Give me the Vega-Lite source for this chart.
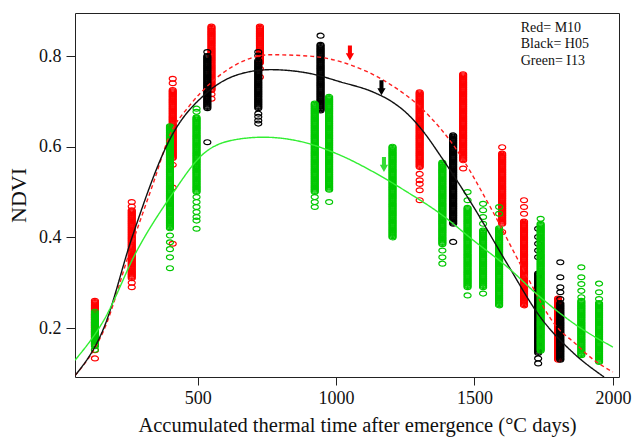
{
  "$schema": "https://vega.github.io/schema/vega-lite/v6.json",
  "width": 544,
  "height": 364,
  "autosize": "none",
  "padding": {"left": 75, "top": 13, "right": 15, "bottom": 60},
  "background": "white",
  "config": {"view": {"stroke": "#222", "strokeWidth": 1}, "font": "Liberation Serif"},
  "datasets": {
    "obs": [
      {"g": "Red", "t": 129, "v": [0.133,0.151,0.165,0.17,0.1725,0.175,0.1775,0.18,0.1825,0.185,0.1875,0.19,0.1925,0.195,0.1975,0.2,0.2025,0.205,0.2075,0.21,0.2125,0.215,0.2175,0.22,0.2225,0.225,0.2275,0.23,0.2325,0.235,0.2375,0.24,0.2425,0.245,0.2475,0.25,0.2525,0.255,0.2575,0.26]},
      {"g": "Red", "t": 262, "v": [0.29,0.3,0.31,0.3125,0.315,0.3175,0.32,0.3225,0.325,0.3275,0.33,0.3325,0.335,0.3375,0.34,0.3425,0.345,0.3475,0.35,0.3525,0.355,0.3575,0.36,0.3625,0.365,0.3675,0.37,0.3725,0.375,0.3775,0.38,0.3825,0.385,0.3875,0.39,0.3925,0.395,0.3975,0.4,0.4025,0.405,0.4075,0.41,0.4125,0.415,0.4175,0.42,0.4225,0.425,0.4275,0.43,0.4325,0.435,0.4375,0.44,0.4425,0.445,0.4475,0.45,0.4525,0.455,0.4575,0.46,0.468,0.478]},
      {"g": "Red", "t": 410, "v": [0.386,0.51,0.56,0.575,0.5775,0.58,0.5825,0.585,0.5875,0.59,0.5925,0.595,0.5975,0.6,0.6025,0.605,0.6075,0.61,0.6125,0.615,0.6175,0.62,0.6225,0.625,0.6275,0.63,0.6325,0.635,0.6375,0.64,0.6425,0.645,0.6475,0.65,0.6525,0.655,0.6575,0.66,0.6625,0.665,0.6675,0.67,0.6725,0.675,0.6775,0.68,0.6825,0.685,0.6875,0.69,0.6925,0.695,0.6975,0.7,0.7025,0.705,0.7075,0.71,0.7125,0.715,0.7175,0.72,0.7225,0.725,0.74,0.75]},
      {"g": "Red", "t": 550, "v": [0.706,0.716,0.725,0.7275,0.73,0.7325,0.735,0.7375,0.74,0.7425,0.745,0.7475,0.75,0.7525,0.755,0.7575,0.76,0.7625,0.765,0.7675,0.77,0.7725,0.775,0.7775,0.78,0.7825,0.785,0.7875,0.79,0.7925,0.795,0.7975,0.8,0.8025,0.805,0.8075,0.81,0.8125,0.815,0.8175,0.82,0.8225,0.825,0.8275,0.83,0.8325,0.835,0.8375,0.84,0.8425,0.845,0.8475,0.85,0.8525,0.855,0.8575,0.86,0.8625,0.865]},
      {"g": "Red", "t": 725, "v": [0.754,0.772,0.785,0.7875,0.79,0.7925,0.795,0.7975,0.8,0.8025,0.805,0.8075,0.81,0.8125,0.815,0.8175,0.82,0.8225,0.825,0.8275,0.83,0.8325,0.835,0.8375,0.84,0.8425,0.845,0.8475,0.85,0.8525,0.855,0.8575,0.86,0.8625,0.865]},
      {"g": "Red", "t": 1302, "v": [0.482,0.504,0.518,0.526,0.54,0.555,0.5575,0.56,0.5625,0.565,0.5675,0.57,0.5725,0.575,0.5775,0.58,0.5825,0.585,0.5875,0.59,0.5925,0.595,0.5975,0.6,0.6025,0.605,0.6075,0.61,0.6125,0.615,0.6175,0.62,0.6225,0.625,0.6275,0.63,0.6325,0.635,0.6375,0.64,0.6425,0.645,0.6475,0.65,0.6525,0.655,0.6575,0.66,0.6625,0.665,0.6675,0.67,0.6725,0.675,0.6775,0.68,0.6825,0.685,0.6875,0.69,0.6925,0.695,0.6975,0.7,0.7025,0.705,0.7075,0.71,0.7125,0.715,0.7175,0.72]},
      {"g": "Red", "t": 1459, "v": [0.552,0.57,0.5725,0.575,0.5775,0.58,0.5825,0.585,0.5875,0.59,0.5925,0.595,0.5975,0.6,0.6025,0.605,0.6075,0.61,0.6125,0.615,0.6175,0.62,0.6225,0.625,0.6275,0.63,0.6325,0.635,0.6375,0.64,0.6425,0.645,0.6475,0.65,0.6525,0.655,0.6575,0.66,0.6625,0.665,0.6675,0.67,0.6725,0.675,0.6775,0.68,0.6825,0.685,0.6875,0.69,0.6925,0.695,0.6975,0.7,0.7025,0.705,0.7075,0.71,0.7125,0.715,0.7175,0.72,0.7225,0.725,0.7275,0.73,0.7325,0.735,0.7375,0.74,0.7425,0.745,0.7475,0.75,0.7525,0.755,0.7575,0.76]},
      {"g": "Red", "t": 1600, "v": [0.412,0.43,0.4325,0.435,0.4375,0.44,0.4425,0.445,0.4475,0.45,0.4525,0.455,0.4575,0.46,0.4625,0.465,0.4675,0.47,0.4725,0.475,0.4775,0.48,0.4825,0.485,0.4875,0.49,0.4925,0.495,0.4975,0.5,0.5025,0.505,0.5075,0.51,0.5125,0.515,0.5175,0.52,0.5225,0.525,0.5275,0.53,0.5325,0.535,0.5375,0.54,0.5425,0.545,0.5475,0.55,0.5525,0.555,0.5575,0.56,0.5625,0.565,0.5675,0.57,0.5725,0.575,0.5775,0.58,0.5825,0.585,0.599]},
      {"g": "Red", "t": 1679, "v": [0.25,0.2525,0.255,0.2575,0.26,0.2625,0.265,0.2675,0.27,0.2725,0.275,0.2775,0.28,0.2825,0.285,0.2875,0.29,0.2925,0.295,0.2975,0.3,0.3025,0.305,0.3075,0.31,0.3125,0.315,0.3175,0.32,0.3225,0.325,0.3275,0.33,0.3325,0.335,0.3375,0.34,0.3425,0.345,0.3475,0.35,0.3525,0.355,0.3575,0.36,0.3625,0.365,0.3675,0.37,0.3725,0.375,0.3775,0.38,0.3825,0.385,0.3875,0.39,0.3925,0.395,0.3975,0.4,0.4025,0.405,0.4075,0.41,0.4125,0.415,0.4175,0.42,0.4225,0.425,0.4275,0.43,0.4325,0.435,0.452,0.467,0.482]},
      {"g": "Red", "t": 1802, "v": [0.13,0.1325,0.135,0.1375,0.14,0.1425,0.145,0.1475,0.15,0.1525,0.155,0.1575,0.16,0.1625,0.165,0.1675,0.17,0.1725,0.175,0.1775,0.18,0.1825,0.185,0.1875,0.19,0.1925,0.195,0.1975,0.2,0.2025,0.205,0.2075,0.21,0.2125,0.215,0.2175,0.22,0.2225,0.225,0.2275,0.23,0.2325,0.235,0.2375,0.24,0.2425,0.245,0.2475,0.25,0.2525,0.255,0.2575,0.26,0.2625,0.265]},
      {"g": "Black", "t": 535, "v": [0.61,0.685,0.6875,0.69,0.6925,0.695,0.6975,0.7,0.7025,0.705,0.7075,0.71,0.7125,0.715,0.7175,0.72,0.7225,0.725,0.7275,0.73,0.7325,0.735,0.7375,0.74,0.7425,0.745,0.7475,0.75,0.7525,0.755,0.7575,0.76,0.7625,0.765,0.7675,0.77,0.7725,0.775,0.7775,0.78,0.7825,0.785,0.7875,0.79,0.7925,0.795,0.7975,0.8,0.809]},
      {"g": "Black", "t": 719, "v": [0.651,0.658,0.666,0.673,0.685,0.6875,0.69,0.6925,0.695,0.6975,0.7,0.7025,0.705,0.7075,0.71,0.7125,0.715,0.7175,0.72,0.7225,0.725,0.7275,0.73,0.7325,0.735,0.7375,0.74,0.7425,0.745,0.7475,0.75,0.7525,0.755,0.7575,0.76,0.7625,0.765,0.7675,0.77,0.7725,0.775,0.7775,0.78,0.7825,0.785,0.7875,0.79,0.801,0.809]},
      {"g": "Black", "t": 944, "v": [0.68,0.6825,0.685,0.6875,0.69,0.6925,0.695,0.6975,0.7,0.7025,0.705,0.7075,0.71,0.7125,0.715,0.7175,0.72,0.7225,0.725,0.7275,0.73,0.7325,0.735,0.7375,0.74,0.7425,0.745,0.7475,0.75,0.7525,0.755,0.7575,0.76,0.7625,0.765,0.7675,0.77,0.7725,0.775,0.7775,0.78,0.7825,0.785,0.7875,0.79,0.7925,0.795,0.7975,0.8,0.8025,0.805,0.8075,0.81,0.8125,0.815,0.8175,0.82,0.8225,0.825,0.845]},
      {"g": "Black", "t": 1423, "v": [0.39,0.43,0.4325,0.435,0.4375,0.44,0.4425,0.445,0.4475,0.45,0.4525,0.455,0.4575,0.46,0.4625,0.465,0.4675,0.47,0.4725,0.475,0.4775,0.48,0.4825,0.485,0.4875,0.49,0.4925,0.495,0.4975,0.5,0.5025,0.505,0.5075,0.51,0.5125,0.515,0.5175,0.52,0.5225,0.525,0.5275,0.53,0.5325,0.535,0.5375,0.54,0.5425,0.545,0.5475,0.55,0.5525,0.555,0.5575,0.56,0.5625,0.565,0.5675,0.57,0.5725,0.575,0.5775,0.58,0.5825,0.585,0.5875,0.59,0.5925,0.595,0.5975,0.6,0.6025,0.605,0.6075,0.61,0.6125,0.615,0.6175,0.62,0.6225,0.625]},
      {"g": "Black", "t": 1730, "v": [0.122,0.133,0.145,0.1475,0.15,0.1525,0.155,0.1575,0.16,0.1625,0.165,0.1675,0.17,0.1725,0.175,0.1775,0.18,0.1825,0.185,0.1875,0.19,0.1925,0.195,0.1975,0.2,0.2025,0.205,0.2075,0.21,0.2125,0.215,0.2175,0.22,0.2225,0.225,0.2275,0.23,0.2325,0.235,0.2375,0.24,0.2425,0.245,0.2475,0.25,0.2525,0.255,0.2575,0.26,0.2625,0.265,0.2675,0.27,0.2725,0.275,0.2775,0.28,0.2825,0.285,0.2875,0.29,0.2925,0.295,0.2975,0.3,0.3025,0.305,0.3075,0.31,0.3125,0.315,0.3175,0.32,0.356,0.371,0.386,0.401,0.419]},
      {"g": "Black", "t": 1810, "v": [0.13,0.1325,0.135,0.1375,0.14,0.1425,0.145,0.1475,0.15,0.1525,0.155,0.1575,0.16,0.1625,0.165,0.1675,0.17,0.1725,0.175,0.1775,0.18,0.1825,0.185,0.1875,0.19,0.1925,0.195,0.1975,0.2,0.2025,0.205,0.2075,0.21,0.2125,0.215,0.2175,0.22,0.2225,0.225,0.2275,0.23,0.2325,0.235,0.2375,0.24,0.2425,0.245,0.2475,0.25,0.2525,0.255,0.264,0.279,0.29,0.312,0.345]},
      {"g": "Green", "t": 129, "v": [0.152,0.16,0.1625,0.165,0.1675,0.17,0.1725,0.175,0.1775,0.18,0.1825,0.185,0.1875,0.19,0.1925,0.195,0.1975,0.2,0.2025,0.205,0.2075,0.21,0.2125,0.215,0.2175,0.22,0.2225,0.225,0.2275,0.23,0.2325,0.236]},
      {"g": "Green", "t": 400, "v": [0.332,0.356,0.374,0.389,0.404,0.42,0.4225,0.425,0.4275,0.43,0.4325,0.435,0.4375,0.44,0.4425,0.445,0.4475,0.45,0.4525,0.455,0.4575,0.46,0.4625,0.465,0.4675,0.47,0.4725,0.475,0.4775,0.48,0.4825,0.485,0.4875,0.49,0.4925,0.495,0.4975,0.5,0.5025,0.505,0.5075,0.51,0.5125,0.515,0.5175,0.52,0.5225,0.525,0.5275,0.53,0.5325,0.535,0.5375,0.54,0.5425,0.545,0.5475,0.55,0.5525,0.555,0.5575,0.56,0.5625,0.565,0.5675,0.57,0.5725,0.575,0.5775,0.58,0.5825,0.585,0.5875,0.59,0.5925,0.595,0.5975,0.6,0.6025,0.605,0.6075,0.61,0.6125,0.615,0.6175,0.62,0.6225,0.625,0.6275,0.63,0.6325,0.635,0.6375,0.64,0.6425,0.645]},
      {"g": "Green", "t": 496, "v": [0.419,0.437,0.445,0.456,0.467,0.478,0.489,0.5,0.5025,0.505,0.5075,0.51,0.5125,0.515,0.5175,0.52,0.5225,0.525,0.5275,0.53,0.5325,0.535,0.5375,0.54,0.5425,0.545,0.5475,0.55,0.5525,0.555,0.5575,0.56,0.5625,0.565,0.5675,0.57,0.5725,0.575,0.5775,0.58,0.5825,0.585,0.5875,0.59,0.5925,0.595,0.5975,0.6,0.6025,0.605,0.6075,0.61,0.6125,0.615,0.6175,0.62,0.6225,0.625,0.6275,0.63,0.6325,0.635,0.6375,0.64,0.6425,0.645,0.6475,0.65,0.6525,0.655,0.6575,0.66,0.6625,0.665,0.677,0.684]},
      {"g": "Green", "t": 923, "v": [0.467,0.478,0.489,0.5,0.5025,0.505,0.5075,0.51,0.5125,0.515,0.5175,0.52,0.5225,0.525,0.5275,0.53,0.5325,0.535,0.5375,0.54,0.5425,0.545,0.5475,0.55,0.5525,0.555,0.5575,0.56,0.5625,0.565,0.5675,0.57,0.5725,0.575,0.5775,0.58,0.5825,0.585,0.5875,0.59,0.5925,0.595,0.5975,0.6,0.6025,0.605,0.6075,0.61,0.6125,0.615,0.6175,0.62,0.6225,0.625,0.6275,0.63,0.6325,0.635,0.6375,0.64,0.6425,0.645,0.6475,0.65,0.6525,0.655,0.6575,0.66,0.6625,0.665,0.6675,0.67,0.6725,0.675,0.6775,0.68,0.6825,0.685,0.6875,0.69,0.6925,0.695]},
      {"g": "Green", "t": 975, "v": [0.478,0.505,0.5075,0.51,0.5125,0.515,0.5175,0.52,0.5225,0.525,0.5275,0.53,0.5325,0.535,0.5375,0.54,0.5425,0.545,0.5475,0.55,0.5525,0.555,0.5575,0.56,0.5625,0.565,0.5675,0.57,0.5725,0.575,0.5775,0.58,0.5825,0.585,0.5875,0.59,0.5925,0.595,0.5975,0.6,0.6025,0.605,0.6075,0.61,0.6125,0.615,0.6175,0.62,0.6225,0.625,0.6275,0.63,0.6325,0.635,0.6375,0.64,0.6425,0.645,0.6475,0.65,0.6525,0.655,0.6575,0.66,0.6625,0.665,0.6675,0.67,0.6725,0.675,0.6775,0.68,0.6825,0.685,0.6875,0.69,0.6925,0.695,0.6975,0.7,0.7025,0.705,0.7075,0.71]},
      {"g": "Green", "t": 1204, "v": [0.4,0.4025,0.405,0.4075,0.41,0.4125,0.415,0.4175,0.42,0.4225,0.425,0.4275,0.43,0.4325,0.435,0.4375,0.44,0.4425,0.445,0.4475,0.45,0.4525,0.455,0.4575,0.46,0.4625,0.465,0.4675,0.47,0.4725,0.475,0.4775,0.48,0.4825,0.485,0.4875,0.49,0.4925,0.495,0.4975,0.5,0.5025,0.505,0.5075,0.51,0.5125,0.515,0.5175,0.52,0.5225,0.525,0.5275,0.53,0.5325,0.535,0.5375,0.54,0.5425,0.545,0.5475,0.55,0.5525,0.555,0.5575,0.56,0.5625,0.565,0.5675,0.57,0.5725,0.575,0.5775,0.58,0.5825,0.585,0.5875,0.59,0.5925,0.595,0.5975,0.6]},
      {"g": "Green", "t": 1384, "v": [0.342,0.356,0.371,0.385,0.3875,0.39,0.3925,0.395,0.3975,0.4,0.4025,0.405,0.4075,0.41,0.4125,0.415,0.4175,0.42,0.4225,0.425,0.4275,0.43,0.4325,0.435,0.4375,0.44,0.4425,0.445,0.4475,0.45,0.4525,0.455,0.4575,0.46,0.4625,0.465,0.4675,0.47,0.4725,0.475,0.4775,0.48,0.4825,0.485,0.4875,0.49,0.4925,0.495,0.4975,0.5,0.5025,0.505,0.5075,0.51,0.5125,0.515,0.5175,0.52,0.5225,0.525,0.5275,0.53,0.5325,0.535,0.5375,0.54,0.5425,0.545,0.5475,0.55,0.5525,0.555,0.5575,0.56,0.5625,0.565]},
      {"g": "Green", "t": 1475, "v": [0.272,0.29,0.2925,0.295,0.2975,0.3,0.3025,0.305,0.3075,0.31,0.3125,0.315,0.3175,0.32,0.3225,0.325,0.3275,0.33,0.3325,0.335,0.3375,0.34,0.3425,0.345,0.3475,0.35,0.3525,0.355,0.3575,0.36,0.3625,0.365,0.3675,0.37,0.3725,0.375,0.3775,0.38,0.3825,0.385,0.3875,0.39,0.3925,0.395,0.3975,0.4,0.4025,0.405,0.4075,0.41,0.4125,0.415,0.4175,0.42,0.4225,0.425,0.4275,0.43,0.4325,0.435,0.4375,0.44,0.4425,0.445,0.4475,0.45,0.4525,0.455,0.4575,0.46,0.4625,0.465,0.482,0.5]},
      {"g": "Green", "t": 1531, "v": [0.276,0.29,0.2925,0.295,0.2975,0.3,0.3025,0.305,0.3075,0.31,0.3125,0.315,0.3175,0.32,0.3225,0.325,0.3275,0.33,0.3325,0.335,0.3375,0.34,0.3425,0.345,0.3475,0.35,0.3525,0.355,0.3575,0.36,0.3625,0.365,0.3675,0.37,0.3725,0.375,0.3775,0.38,0.3825,0.385,0.3875,0.39,0.3925,0.395,0.3975,0.4,0.4025,0.405,0.4075,0.41,0.4125,0.415,0.43,0.445,0.46,0.474]},
      {"g": "Green", "t": 1589, "v": [0.25,0.2525,0.255,0.2575,0.26,0.2625,0.265,0.2675,0.27,0.2725,0.275,0.2775,0.28,0.2825,0.285,0.2875,0.29,0.2925,0.295,0.2975,0.3,0.3025,0.305,0.3075,0.31,0.3125,0.315,0.3175,0.32,0.3225,0.325,0.3275,0.33,0.3325,0.335,0.3375,0.34,0.3425,0.345,0.3475,0.35,0.3525,0.355,0.3575,0.36,0.3625,0.365,0.3675,0.37,0.3725,0.375,0.3775,0.38,0.3825,0.385,0.3875,0.39,0.3925,0.395,0.3975,0.4,0.4025,0.405,0.4075,0.41,0.4125,0.415,0.4175,0.42,0.452,0.467]},
      {"g": "Green", "t": 1739, "v": [0.15,0.1525,0.155,0.1575,0.16,0.1625,0.165,0.1675,0.17,0.1725,0.175,0.1775,0.18,0.1825,0.185,0.1875,0.19,0.1925,0.195,0.1975,0.2,0.2025,0.205,0.2075,0.21,0.2125,0.215,0.2175,0.22,0.2225,0.225,0.2275,0.23,0.2325,0.235,0.2375,0.24,0.2425,0.245,0.2475,0.25,0.2525,0.255,0.2575,0.26,0.2625,0.265,0.2675,0.27,0.2725,0.275,0.2775,0.28,0.2825,0.285,0.2875,0.29,0.2925,0.295,0.2975,0.3,0.3025,0.305,0.3075,0.31,0.3125,0.315,0.3175,0.32,0.3225,0.325,0.3275,0.33,0.3325,0.335,0.3375,0.34,0.3425,0.345,0.3475,0.35,0.3525,0.355,0.3575,0.36,0.3625,0.365,0.3675,0.37,0.3725,0.375,0.3775,0.38,0.3825,0.385,0.3875,0.39,0.3925,0.395,0.3975,0.4,0.4025,0.405,0.4075,0.41,0.4125,0.415,0.4175,0.42,0.4225,0.425,0.4275,0.43,0.441]},
      {"g": "Green", "t": 1886, "v": [0.14,0.1425,0.145,0.1475,0.15,0.1525,0.155,0.1575,0.16,0.1625,0.165,0.1675,0.17,0.1725,0.175,0.1775,0.18,0.1825,0.185,0.1875,0.19,0.1925,0.195,0.1975,0.2,0.2025,0.205,0.2075,0.21,0.2125,0.215,0.2175,0.22,0.2225,0.225,0.2275,0.23,0.2325,0.235,0.2375,0.24,0.2425,0.245,0.2475,0.25,0.2525,0.255,0.2575,0.26,0.268,0.282,0.297,0.312,0.334]},
      {"g": "Green", "t": 1950, "v": [0.125,0.1275,0.13,0.1325,0.135,0.1375,0.14,0.1425,0.145,0.1475,0.15,0.1525,0.155,0.1575,0.16,0.1625,0.165,0.1675,0.17,0.1725,0.175,0.1775,0.18,0.1825,0.185,0.1875,0.19,0.1925,0.195,0.1975,0.2,0.2025,0.205,0.2075,0.21,0.2125,0.215,0.2175,0.22,0.2225,0.225,0.2275,0.23,0.2325,0.235,0.2375,0.24,0.2425,0.245,0.2475,0.25,0.2525,0.255,0.264,0.279,0.298]}
    ],
    "fit": [
      {"g": "Red", "t": 57, "v": 0.095}, {"g": "Red", "t": 161, "v": 0.195}, {"g": "Red", "t": 263, "v": 0.385},
      {"g": "Red", "t": 340, "v": 0.52}, {"g": "Red", "t": 401, "v": 0.628}, {"g": "Red", "t": 470, "v": 0.69},
      {"g": "Red", "t": 546, "v": 0.74}, {"g": "Red", "t": 651, "v": 0.785}, {"g": "Red", "t": 762, "v": 0.803},
      {"g": "Red", "t": 902, "v": 0.8}, {"g": "Red", "t": 1040, "v": 0.783}, {"g": "Red", "t": 1184, "v": 0.742},
      {"g": "Red", "t": 1317, "v": 0.68}, {"g": "Red", "t": 1437, "v": 0.592}, {"g": "Red", "t": 1557, "v": 0.467},
      {"g": "Red", "t": 1678, "v": 0.327}, {"g": "Red", "t": 1798, "v": 0.202}, {"g": "Red", "t": 1860, "v": 0.168},
      {"g": "Red", "t": 1930, "v": 0.13}, {"g": "Red", "t": 2000, "v": 0.103},
      {"g": "Black", "t": 57, "v": 0.095}, {"g": "Black", "t": 161, "v": 0.2}, {"g": "Black", "t": 263, "v": 0.4},
      {"g": "Black", "t": 401, "v": 0.618}, {"g": "Black", "t": 535, "v": 0.72}, {"g": "Black", "t": 651, "v": 0.76},
      {"g": "Black", "t": 762, "v": 0.77}, {"g": "Black", "t": 902, "v": 0.762}, {"g": "Black", "t": 1016, "v": 0.743},
      {"g": "Black", "t": 1136, "v": 0.72}, {"g": "Black", "t": 1200, "v": 0.7}, {"g": "Black", "t": 1257, "v": 0.673},
      {"g": "Black", "t": 1317, "v": 0.632}, {"g": "Black", "t": 1377, "v": 0.58}, {"g": "Black", "t": 1437, "v": 0.525},
      {"g": "Black", "t": 1497, "v": 0.467}, {"g": "Black", "t": 1618, "v": 0.342}, {"g": "Black", "t": 1738, "v": 0.224},
      {"g": "Black", "t": 1859, "v": 0.144}, {"g": "Black", "t": 1968, "v": 0.092},
      {"g": "Green", "t": 57, "v": 0.129}, {"g": "Green", "t": 161, "v": 0.217}, {"g": "Green", "t": 281, "v": 0.371},
      {"g": "Green", "t": 401, "v": 0.489}, {"g": "Green", "t": 522, "v": 0.585}, {"g": "Green", "t": 631, "v": 0.615},
      {"g": "Green", "t": 738, "v": 0.621}, {"g": "Green", "t": 882, "v": 0.61}, {"g": "Green", "t": 1016, "v": 0.581},
      {"g": "Green", "t": 1136, "v": 0.544}, {"g": "Green", "t": 1257, "v": 0.5}, {"g": "Green", "t": 1377, "v": 0.452},
      {"g": "Green", "t": 1497, "v": 0.393}, {"g": "Green", "t": 1618, "v": 0.335}, {"g": "Green", "t": 1738, "v": 0.268},
      {"g": "Green", "t": 1859, "v": 0.21}, {"g": "Green", "t": 2000, "v": 0.158}
    ],
    "arrows": [
      {"g": "Red", "t": 1050, "v": 0.807},
      {"g": "Black", "t": 1164, "v": 0.73},
      {"g": "Green", "t": 1173, "v": 0.561}
    ],
    "notes": [
      {"t": 1667, "v": 0.861, "label": "Red= M10"},
      {"t": 1667, "v": 0.826, "label": "Black= H05"},
      {"t": 1667, "v": 0.789, "label": "Green= I13"}
    ]
  },
  "encoding": {
    "x": {
      "field": "t", "type": "quantitative",
      "scale": {"domain": [57, 2022], "nice": false, "zero": false},
      "axis": {
        "values": [500, 1000, 1500, 2000], "format": "d", "title": "Accumulated thermal time after emergence (°C days)",
        "titleFont": "Liberation Serif", "titleFontSize": 20.5, "titleFontWeight": "normal", "titleColor": "#111",
        "titleX": 282,
        "labelFont": "Liberation Serif", "labelFontSize": 18, "labelColor": "#111", "labelFlush": false,
        "tickSize": 8, "tickColor": "#222", "domain": false, "grid": false, "labelPadding": 4, "titlePadding": 8
      }
    },
    "y": {
      "field": "v", "type": "quantitative",
      "scale": {"domain": [0.092, 0.895], "nice": false, "zero": false},
      "axis": {
        "values": [0.2, 0.4, 0.6, 0.8], "format": ".1f", "title": "NDVI",
        "titleFont": "Liberation Serif", "titleFontSize": 22, "titleFontWeight": "normal", "titleColor": "#111",
        "labelFont": "Liberation Serif", "labelFontSize": 18, "labelColor": "#111",
        "tickSize": 9, "tickColor": "#222", "domain": false, "grid": false, "labelPadding": 5, "titlePadding": 8
      }
    }
  },
  "layer": [
    {
      "data": {"name": "obs"},
      "transform": [{"flatten": ["v"]}],
      "mark": {
        "type": "point", "filled": false, "clip": true, "opacity": 1, "strokeWidth": 1.2, "size": 49,
        "shape": "M-1,0C-1,-0.39,-0.55,-0.7,0,-0.7C0.55,-0.7,1,-0.39,1,0C1,0.39,0.55,0.7,0,0.7C-0.55,0.7,-1,0.39,-1,0Z"
      },
      "encoding": {
        "color": {"field": "g", "type": "nominal", "scale": {"domain": ["Red", "Black", "Green"], "range": ["#ff0000", "#000000", "#00c800"]}, "legend": null}
      }
    },
    {
      "data": {"name": "fit"},
      "mark": {"type": "line", "interpolate": "monotone", "clip": true, "strokeWidth": 1.4},
      "encoding": {
        "color": {"field": "g", "type": "nominal", "scale": {"domain": ["Red", "Black", "Green"], "range": ["#ff2020", "#111111", "#33ee33"]}, "legend": null},
        "strokeDash": {"field": "g", "type": "nominal", "scale": {"domain": ["Red", "Black", "Green"], "range": [[4, 3], [1, 0], [1, 0]]}, "legend": null}
      }
    },
    {
      "data": {"name": "arrows"},
      "mark": {
        "type": "point", "filled": true, "opacity": 1, "size": 225,
        "shape": "M-0.27,-1L0.27,-1L0.27,0.05L0.55,0.05L0,1L-0.55,0.05L-0.27,0.05Z"
      },
      "encoding": {
        "color": {"field": "g", "type": "nominal", "scale": {"domain": ["Red", "Black", "Green"], "range": ["#ff0000", "#000000", "#33dd33"]}, "legend": null}
      }
    },
    {
      "data": {"name": "notes"},
      "mark": {"type": "text", "align": "left", "baseline": "middle", "font": "Liberation Serif", "fontSize": 14, "color": "#111"},
      "encoding": {"text": {"field": "label", "type": "nominal"}}
    }
  ],
  "resolve": {"scale": {"color": "independent", "strokeDash": "independent"}}
}
